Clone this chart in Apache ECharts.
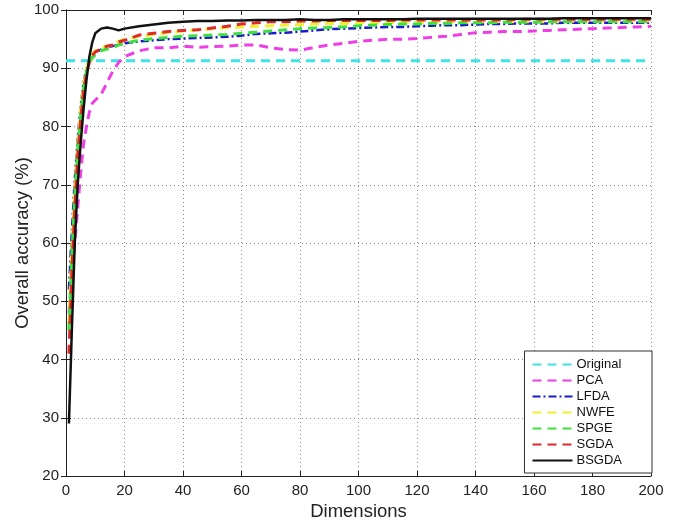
<!DOCTYPE html>
<html>
<head>
    <meta charset="utf-8">
    <title>Overall accuracy</title>
    <script src="https://cdn.jsdelivr.net/npm/echarts@6/dist/echarts.min.js"></script>
    <style>
        html, body { margin: 0; padding: 0; background: #fff; }
        #main { width: 679px; height: 522px; }
    </style>
</head>
<body>
    <div id="main"></div>
    <script>
        // data
        var dims = [1, 2, 3, 4, 5, 6, 7, 8, 9, 10, 12, 14, 16, 18, 20,
            25, 30, 35, 40, 45, 50, 55, 60, 65, 70, 75, 80, 85, 90, 95, 100,
            105, 110, 115, 120, 125, 130, 135, 140, 145, 150, 155, 160, 165, 170, 175, 180, 185, 190, 195, 200];
        var origDims = [0, 200];
        var original = [91.3, 91.3];
        var pca = [48, 54, 60, 66, 72, 77, 80, 82.5, 84, 84.5, 85.5, 87.5, 89.5, 91, 92,
            93, 93.5, 93.5, 93.8, 93.6, 93.7, 93.8, 94, 94, 93.5, 93.2, 93.1, 93.6, 94, 94.3, 94.6,
            94.8, 95, 95, 95.1, 95.3, 95.5, 95.8, 96.1, 96.2, 96.3, 96.3, 96.4, 96.5, 96.6, 96.7, 96.8, 96.9, 97, 97.1, 97.2];
        var lfda = [52, 62, 71, 78, 83.5, 87.5, 90, 91.5, 92.3, 92.8, 93.2, 93.6, 93.8, 94, 94.3,
            94.6, 94.8, 95, 95.1, 95.2, 95.3, 95.4, 95.6, 95.9, 96, 96.1, 96.3, 96.5, 96.7, 96.8, 96.9,
            97, 97.1, 97.1, 97.2, 97.3, 97.4, 97.4, 97.5, 97.6, 97.6, 97.7, 97.7, 97.7, 97.8, 97.8, 97.8, 97.8, 97.8, 97.8, 97.8];
        var nwfe = [46, 59, 69, 77, 83, 87, 90, 91.5, 92.5, 93, 93.5, 93.8, 94, 94.6, 95,
            95.5, 95.8, 96.1, 96.4, 96.6, 96.8, 97, 97.1, 97.2, 97.3, 97.4, 97.5, 97.6, 97.7, 97.7, 97.8,
            97.8, 97.8, 97.9, 97.9, 97.9, 97.9, 98, 98, 98, 98, 98, 98, 98, 98, 98.1, 98.1, 98.1, 98.1, 98.1, 98.1];
        var spge = [45, 58, 68, 76, 82, 86.5, 89.5, 91, 91.8, 92.3, 93, 93.3, 93.5, 94, 94.3,
            94.8, 95.1, 95.3, 95.5, 95.6, 95.7, 95.8, 96, 96.2, 96.4, 96.6, 96.8, 96.9, 97, 97.1, 97.3,
            97.4, 97.5, 97.6, 97.6, 97.7, 97.7, 97.8, 97.8, 97.8, 97.9, 97.9, 97.9, 98, 98, 98, 98, 98, 98, 98, 98];
        var sgda = [41, 55, 66, 75, 81, 86, 89, 91, 92.2, 92.8, 93.3, 93.8, 94, 94.5, 94.8,
            95.7, 96, 96.3, 96.5, 96.6, 96.9, 97.2, 97.6, 97.8, 98, 98, 98.1, 98.1, 98.2, 98.2, 98.2,
            98.2, 98.2, 98.3, 98.3, 98.3, 98.3, 98.3, 98.3, 98.3, 98.3, 98.4, 98.4, 98.4, 98.4, 98.4, 98.4, 98.4, 98.4, 98.4, 98.4];
        var bsgda = [29, 45, 60, 70, 77, 83, 88, 92, 94.5, 96, 96.8, 97, 96.8, 96.5, 96.8,
            97.2, 97.5, 97.8, 98, 98.1, 98.1, 98.2, 98.2, 98.3, 98.3, 98.3, 98.4, 98.3, 98.3, 98.4, 98.4,
            98.4, 98.4, 98.4, 98.5, 98.5, 98.5, 98.5, 98.5, 98.5, 98.5, 98.5, 98.5, 98.5, 98.6, 98.6, 98.6, 98.6, 98.6, 98.6, 98.6];
        var yTicks = [20, 30, 40, 50, 60, 70, 80, 90, 100];

        function pairs(xs, ys) {
            return xs.map(function (x, i) { return [x, ys[i]]; });
        }
        function line(name, xs, ys, color, dash, width) {
            return {
                name: name,
                type: 'line',
                data: pairs(xs, ys),
                symbol: 'none',
                animation: false,
                lineStyle: { color: color, width: width, type: dash },
                itemStyle: { color: color }
            };
        }

        var font = 'Liberation Sans, Arial, sans-serif';
        var myChart = echarts.init(document.getElementById('main'));
        var baseAxis = {
            axisLine: { show: true, lineStyle: { color: '#222', width: 1 } },
            axisTick: { show: true, inside: true, length: 5, lineStyle: { color: '#222' } }
        };
        var option = {
            backgroundColor: '#fff',
            animation: false,
            grid: { left: 66, right: 28, top: 10, bottom: 46, show: false, containLabel: false, outerBoundsMode: 'none' },
            legend: {
                orient: 'vertical',
                right: 27,
                bottom: 49,
                itemWidth: 40,
                itemHeight: 10,
                itemGap: 3,
                padding: [7, 30, 6, 7],
                borderColor: '#333',
                borderWidth: 1,
                backgroundColor: '#fff',
                itemStyle: { opacity: 0 },
                textStyle: { fontFamily: font, fontSize: 13, color: '#111', padding: [0, 0, 0, -1] },
                data: ['Original', 'PCA', 'LFDA', 'NWFE', 'SPGE', 'SGDA', 'BSGDA']
            },
            xAxis: [
                Object.assign({
                    type: 'value', min: 0, max: 200, interval: 20,
                    name: 'Dimensions', nameLocation: 'middle', nameGap: 26, nameMoveOverlap: false,
                    nameTextStyle: { fontFamily: font, fontSize: 18.5, color: '#222' },
                    axisLabel: { fontFamily: font, fontSize: 15, color: '#222', margin: 7 },
                    splitLine: { show: true, lineStyle: { color: '#888', type: [1, 3], width: 1 } }
                }, baseAxis),
                Object.assign({
                    type: 'value', min: 0, max: 200, interval: 20, position: 'top',
                    axisLabel: { show: false }, splitLine: { show: false }
                }, baseAxis)
            ],
            yAxis: [
                Object.assign({
                    type: 'value', min: yTicks[0], max: yTicks[yTicks.length - 1], interval: 10,
                    name: 'Overall accuracy (%)', nameLocation: 'middle', nameGap: 34, nameMoveOverlap: false,
                    nameTextStyle: { fontFamily: font, fontSize: 18.5, color: '#222' },
                    axisLabel: { fontFamily: font, fontSize: 15, color: '#222', margin: 7 },
                    splitLine: { show: true, lineStyle: { color: '#888', type: [1, 3], width: 1 } }
                }, baseAxis),
                Object.assign({
                    type: 'value', min: yTicks[0], max: yTicks[yTicks.length - 1], interval: 10, position: 'right',
                    axisLabel: { show: false }, splitLine: { show: false }
                }, baseAxis)
            ],
            series: [
                line('Original', origDims, original, '#3fe3e3', [9, 6], 3),
                line('PCA', dims, pca, '#ee3fe6', [9, 6], 3),
                line('LFDA', dims, lfda, '#1a1acc', [8, 3, 2, 3], 2.5),
                line('NWFE', dims, nwfe, '#f0f032', [9, 6], 3),
                line('SPGE', dims, spge, '#3ee03e', [9, 6], 3),
                line('SGDA', dims, sgda, '#e02a2a', [9, 6], 3),
                line('BSGDA', dims, bsgda, '#111', 'solid', 2.5)
            ]
        };
        myChart.setOption(option);
    </script>
</body>
</html>
